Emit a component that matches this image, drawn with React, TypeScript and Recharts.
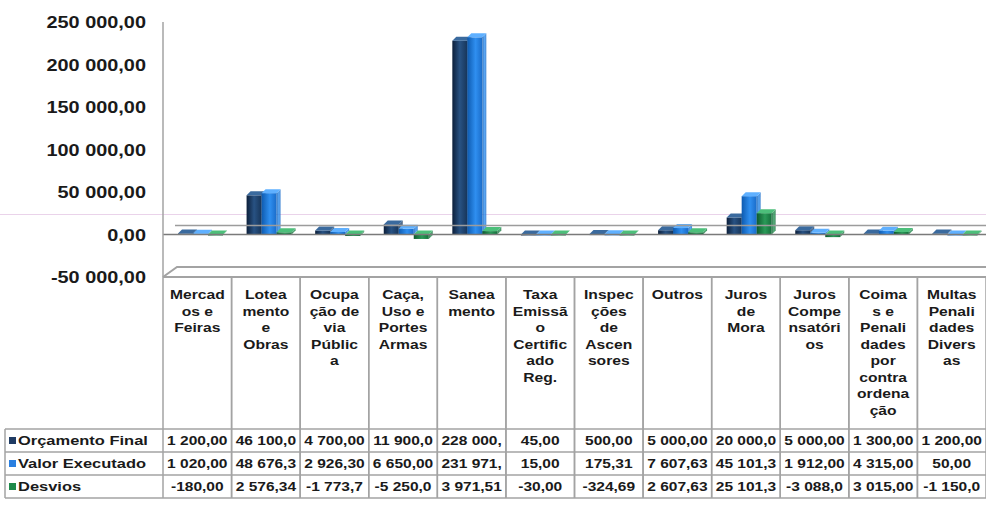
import React from 'react';
import { BarChart, Bar, XAxis, YAxis, ReferenceLine } from 'recharts';

// category labels, wrapped the way the cells show them
const categories = [
  ['Mercad', 'os e', 'Feiras'],
  ['Lotea', 'mento', 'e', 'Obras'],
  ['Ocupa', 'ção de', 'via', 'Públic', 'a'],
  ['Caça,', 'Uso e', 'Portes', 'Armas'],
  ['Sanea', 'mento'],
  ['Taxa', 'Emissã', 'o', 'Certific', 'ado', 'Reg.'],
  ['Inspec', 'ções', 'de', 'Ascen', 'sores'],
  ['Outros'],
  ['Juros', 'de', 'Mora'],
  ['Juros', 'Compe', 'nsatóri', 'os'],
  ['Coima', 's e', 'Penali', 'dades', 'por', 'contra', 'ordena', 'ção'],
  ['Multas', 'Penali', 'dades', 'Divers', 'as'],
];

const orcamentoFinal = [1200, 46100, 4700, 11900, 228000, 45, 500, 5000, 20000, 5000, 1300, 1200];
const valorExecutado = [1020, 48676.34, 2926.3, 6650, 231971.51, 15, 175.31, 7607.63, 45101.3, 1912, 4315, 50];
const desvios = [-180, 2576.34, -1773.7, -5250, 3971.51, -30, -324.69, 2607.63, 25101.3, -3088, 3015, -1150];

const yTicks = [-50000, 0, 50000, 100000, 150000, 200000, 250000];

const seriesInfo = [
  { key: 'orc', label: 'Orçamento Final', color: '#1f3b63', grad: 'gOrc', top: '#3a6a9e' },
  { key: 'val', label: 'Valor Executado', color: '#2a7fe0', grad: 'gVal', top: '#5fb0ff' },
  { key: 'desv', label: 'Desvios', color: '#1e8a4a', grad: 'gDesv', top: '#4cbf7a' },
];

const data = categories.map((lines, i) => ({
  name: lines.join(' '),
  lines,
  orc: orcamentoFinal[i],
  val: valorExecutado[i],
  desv: desvios[i],
}));

const W = 986;
const H = 510;
const PLOT_LEFT = 163;
const PLOT_TOP = 22;
const PLOT_BOTTOM = 277;
const COL_W = (W - PLOT_LEFT) / categories.length;
const ROWS = [429, 452, 475, 498];
const GRID = '#a3a3a3';
const FONT = "Arial, 'Liberation Sans', sans-serif";
const DEPTH = 4;

function fmt(v: number) {
  const neg = v < 0;
  const [int, dec] = Math.abs(v).toFixed(2).split('.');
  const grouped = int.replace(/\B(?=(\d{3})+(?!\d))/g, ' ');
  return (neg ? '-' : '') + grouped + ',' + dec;
}

// excel cuts values that don't fit the cell
const cell = (v: number) => fmt(v).slice(0, 8);

const SText = ({ x, y, anchor = 'middle', size = 13.5, sx = 1.16, children }: any) => (
  <text
    transform={`translate(${x},${y}) scale(${sx},1)`}
    textAnchor={anchor}
    fontSize={size}
    fontWeight="bold"
    fontFamily={FONT}
    fill="#1a1a1a"
  >
    {children}
  </text>
);

const YTick = (props: any) => {
  const { y, payload } = props;
  return (
    <SText x={146} y={y + 6} anchor="end" size={17} sx={1.17}>
      {fmt(payload.value)}
    </SText>
  );
};

// bar with a small 3d top and side, like the excel 3d column
const Bar3D = (props: any) => {
  const { x, y, width, height, fill, topColor } = props;
  if (width == null || y == null) return null;
  const top = Math.min(y, y + height);
  const h = Math.abs(height);
  const bx = x + 3;
  const d = DEPTH;
  return (
    <g>
      <path
        d={`M${bx + width},${top} L${bx + width + d},${top - d} L${bx + width + d},${top + h - d} L${bx + width},${top + h} Z`}
        fill={fill}
        opacity={0.8}
      />
      <rect x={bx} y={top} width={width} height={Math.max(h, 1)} fill={fill} />
      <path
        d={`M${bx},${top} L${bx + d},${top - d} L${bx + width + d},${top - d} L${bx + width},${top} Z`}
        fill={topColor}
      />
    </g>
  );
};

const TableTick = (props: any) => {
  const { x, payload } = props;
  const idx = payload.index;
  const row = data[idx];
  const left = x - COL_W / 2;
  const right = x + COL_W / 2;
  return (
    <g>
      {idx === 0 && (
        <g>
          {/* floor of the 3d plot */}
          <path
            d={`M${PLOT_LEFT},${PLOT_BOTTOM} L${PLOT_LEFT + 14},${PLOT_BOTTOM - 10} L${W},${PLOT_BOTTOM - 10}`}
            fill="none"
            stroke={GRID}
            strokeWidth={2}
          />
          <line x1={PLOT_LEFT} x2={W} y1={PLOT_BOTTOM} y2={PLOT_BOTTOM} stroke={GRID} strokeWidth={2} />
          {ROWS.map((ry) => (
            <line key={ry} x1={5} x2={W} y1={ry} y2={ry} stroke={GRID} strokeWidth={1.5} />
          ))}
          <line x1={5} x2={5} y1={ROWS[0]} y2={ROWS[3]} stroke={GRID} strokeWidth={1.5} />
          {seriesInfo.map((s, i) => (
            <g key={s.key}>
              <rect x={9} y={ROWS[i] + 8} width={7} height={7} fill={s.color} />
              <SText x={18} y={ROWS[i] + 16} anchor="start" size={13.5} sx={1.22}>
                {s.label}
              </SText>
            </g>
          ))}
        </g>
      )}
      <line x1={left} x2={left} y1={PLOT_BOTTOM} y2={ROWS[3]} stroke={GRID} strokeWidth={1.5} />
      <line x1={right} x2={right} y1={PLOT_BOTTOM} y2={ROWS[3]} stroke={GRID} strokeWidth={1.5} />
      {row.lines.map((ln: string, i: number) => (
        <SText key={i} x={x} y={299 + i * 16.5}>
          {ln}
        </SText>
      ))}
      <SText x={x} y={ROWS[0] + 16} size={13.5} sx={1.15}>{cell(row.orc)}</SText>
      <SText x={x} y={ROWS[1] + 16} size={13.5} sx={1.15}>{cell(row.val)}</SText>
      <SText x={x} y={ROWS[2] + 16} size={13.5} sx={1.15}>{cell(row.desv)}</SText>
    </g>
  );
};

const ZeroLines = (props: any) => {
  const { x1, x2, y1 } = props;
  return (
    <g>
      <line x1={x1 + 12} x2={x2} y1={y1 - 9} y2={y1 - 9} stroke="#9c9c9c" strokeWidth={1.5} />
      <line x1={x1} x2={x2} y1={y1} y2={y1} stroke="#7a7a7a" strokeWidth={1.5} />
    </g>
  );
};

export default function App() {
  return (
    <div style={{ position: 'absolute', left: 0, top: 0, width: W, height: H, background: '#fff' }}>
      <div style={{ position: 'absolute', left: 0, top: 214, width: W, height: 1, background: '#ead3ea' }} />
      <BarChart
        width={W}
        height={H}
        data={data}
        margin={{ top: PLOT_TOP, right: 0, left: 0, bottom: 0 }}
        barGap={0}
        barSize={15}
      >
        <defs>
          <linearGradient id="gOrc" x1="0" y1="0" x2="1" y2="0">
            <stop offset="0%" stopColor="#0c1f3a" />
            <stop offset="50%" stopColor="#285283" />
            <stop offset="100%" stopColor="#173559" />
          </linearGradient>
          <linearGradient id="gVal" x1="0" y1="0" x2="1" y2="0">
            <stop offset="0%" stopColor="#0e5bb0" />
            <stop offset="55%" stopColor="#2f8ff0" />
            <stop offset="100%" stopColor="#1a6cc9" />
          </linearGradient>
          <linearGradient id="gDesv" x1="0" y1="0" x2="1" y2="0">
            <stop offset="0%" stopColor="#0f5a2e" />
            <stop offset="55%" stopColor="#2a9a58" />
            <stop offset="100%" stopColor="#16703c" />
          </linearGradient>
        </defs>
        <XAxis
          dataKey="name"
          height={H - PLOT_BOTTOM}
          interval={0}
          tickLine={false}
          axisLine={false}
          tick={<TableTick />}
        />
        <YAxis
          domain={[-50000, 250000]}
          ticks={yTicks}
          width={PLOT_LEFT}
          tickLine={false}
          axisLine={{ stroke: GRID, strokeWidth: 1.5 }}
          tick={<YTick />}
        />
        <ReferenceLine y={0} shape={<ZeroLines />} />
        {seriesInfo.map((s) => (
          <Bar
            key={s.key}
            dataKey={s.key}
            name={s.label}
            fill={`url(#${s.grad})`}
            isAnimationActive={false}
            shape={<Bar3D topColor={s.top} />}
          />
        ))}
      </BarChart>
    </div>
  );
}
